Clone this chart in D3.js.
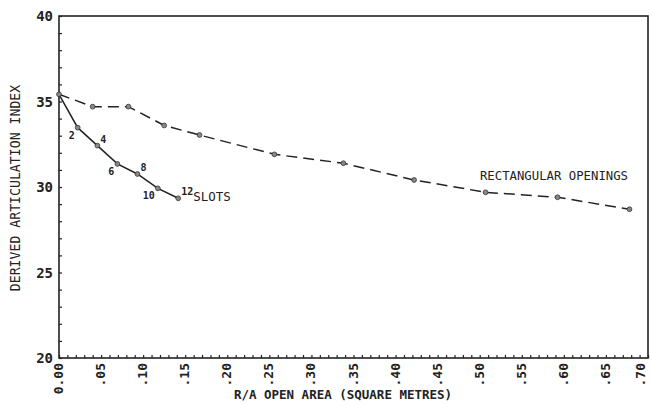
<!DOCTYPE html>
<html>
<head>
<meta charset="utf-8">
<script src="https://cdn.jsdelivr.net/npm/d3@7"></script>
<style>
  body { margin: 0; background: #fff; }
  text { font-family: "DejaVu Sans Mono", monospace; fill: #222; }
</style>
</head>
<body>
<svg id="chart" width="651" height="404"></svg>
<script>
// values
const rectX = [0, 0.040, 0.0825, 0.125, 0.167, 0.256, 0.338, 0.422, 0.507, 0.5925, 0.678];
const rectY = [35.42, 34.7, 34.7, 33.6, 33.04, 31.91, 31.39, 30.41, 29.69, 29.40, 28.70];
const slotX = [0, 0.0222, 0.0456, 0.0694, 0.0932, 0.1175, 0.1417];
const slotY = [35.42, 33.47, 32.42, 31.35, 30.76, 29.92, 29.34];
const slotCounts = ["", "2", "4", "6", "8", "10", "12"];
const xTicks = [0, 0.05, 0.10, 0.15, 0.20, 0.25, 0.30, 0.35, 0.40, 0.45, 0.50, 0.55, 0.60, 0.65, 0.70];
const xTickLabels = ["0.00", ".05", ".10", ".15", ".20", ".25", ".30", ".35", ".40", ".45", ".50", ".55", ".60", ".65", ".70"];
const yTicks = [20, 25, 30, 35, 40];

const svg = d3.select("#chart");
const x = d3.scaleLinear().domain([0, 0.70]).range([59, 648]);
const y = d3.scaleLinear().domain([20, 40]).range([358, 16]);

// frame
svg.append("rect")
  .attr("x", x(0)).attr("y", y(40))
  .attr("width", x(0.70) - x(0)).attr("height", y(20) - y(40))
  .attr("fill", "none").attr("stroke", "#222").attr("stroke-width", 1.6);

// x axis: minor ticks every .01, inside
const xAxis = svg.append("g").attr("transform", `translate(0,${y(20)})`)
  .call(d3.axisTop(x).tickValues(d3.range(0, 71).map(i => i / 100)).tickSize(3).tickFormat(""));
xAxis.select(".domain").remove();
xAxis.selectAll("line").attr("stroke", "#222").attr("stroke-width", 1.2);

svg.append("g").selectAll("text")
  .data(xTicks)
  .join("text")
  .attr("transform", d => `translate(${Math.min(x(d) + 4, 645)},${y(20) + 5}) rotate(-90)`)
  .attr("text-anchor", "end")
  .style("font-size", "13px")
  .style("font-weight", "bold")
  .text((d, i) => xTickLabels[i]);

// y axis: minor ticks every 1, inside
const yAxis = svg.append("g").attr("transform", `translate(${x(0)},0)`)
  .call(d3.axisRight(y).tickValues(d3.range(20, 41)).tickSize(3).tickFormat(""));
yAxis.select(".domain").remove();
yAxis.selectAll("line").attr("stroke", "#222").attr("stroke-width", 1.2);

svg.append("g").selectAll("text")
  .data(yTicks)
  .join("text")
  .attr("x", x(0) - 6)
  .attr("y", d => y(d) + 5)
  .attr("text-anchor", "end")
  .style("font-size", "14px")
  .style("font-weight", "bold")
  .text(d => d);

// axis titles
svg.append("text")
  .attr("x", 343).attr("y", 399)
  .attr("text-anchor", "middle")
  .style("font-size", "12.5px")
  .style("font-weight", "bold")
  .text("R/A OPEN AREA (SQUARE METRES)");

svg.append("text")
  .attr("transform", `translate(20,188) rotate(-90)`)
  .attr("text-anchor", "middle")
  .style("font-size", "13.2px")
  .text("DERIVED ARTICULATION INDEX");

const line = d3.line().x(d => x(d[0])).y(d => y(d[1]));
const rect = rectX.map((v, i) => [v, rectY[i]]);
const slots = slotX.map((v, i) => [v, slotY[i]]);

svg.append("path").datum(rect)
  .attr("d", line)
  .attr("fill", "none").attr("stroke", "#222").attr("stroke-width", 1.5)
  .attr("stroke-dasharray", "11,6");

svg.append("path").datum(slots)
  .attr("d", line)
  .attr("fill", "none").attr("stroke", "#222").attr("stroke-width", 1.5);

svg.append("g").selectAll("circle")
  .data(rect.concat(slots.slice(1)))
  .join("circle")
  .attr("cx", d => x(d[0])).attr("cy", d => y(d[1]))
  .attr("r", 2.4)
  .attr("fill", "#888").attr("stroke", "#333").attr("stroke-width", 0.8);

// slot counts, alternating below-left / above-right
svg.append("g").selectAll("text")
  .data(slots.slice(1))
  .join("text")
  .attr("x", (d, i) => x(d[0]) + (i % 2 === 0 ? -3 : 3))
  .attr("y", (d, i) => y(d[1]) + (i % 2 === 0 ? 11 : -3))
  .attr("text-anchor", (d, i) => i % 2 === 0 ? "end" : "start")
  .style("font-size", "10px")
  .style("font-weight", "bold")
  .text((d, i) => slotCounts[i + 1]);

const last = slots[slots.length - 1];
svg.append("text")
  .attr("x", x(last[0]) + 15).attr("y", y(last[1]) + 3)
  .style("font-size", "12.5px")
  .text("SLOTS");

svg.append("text")
  .attr("x", 628).attr("y", 180)
  .attr("text-anchor", "end")
  .style("font-size", "12.3px")
  .text("RECTANGULAR OPENINGS");
</script>
</body>
</html>
